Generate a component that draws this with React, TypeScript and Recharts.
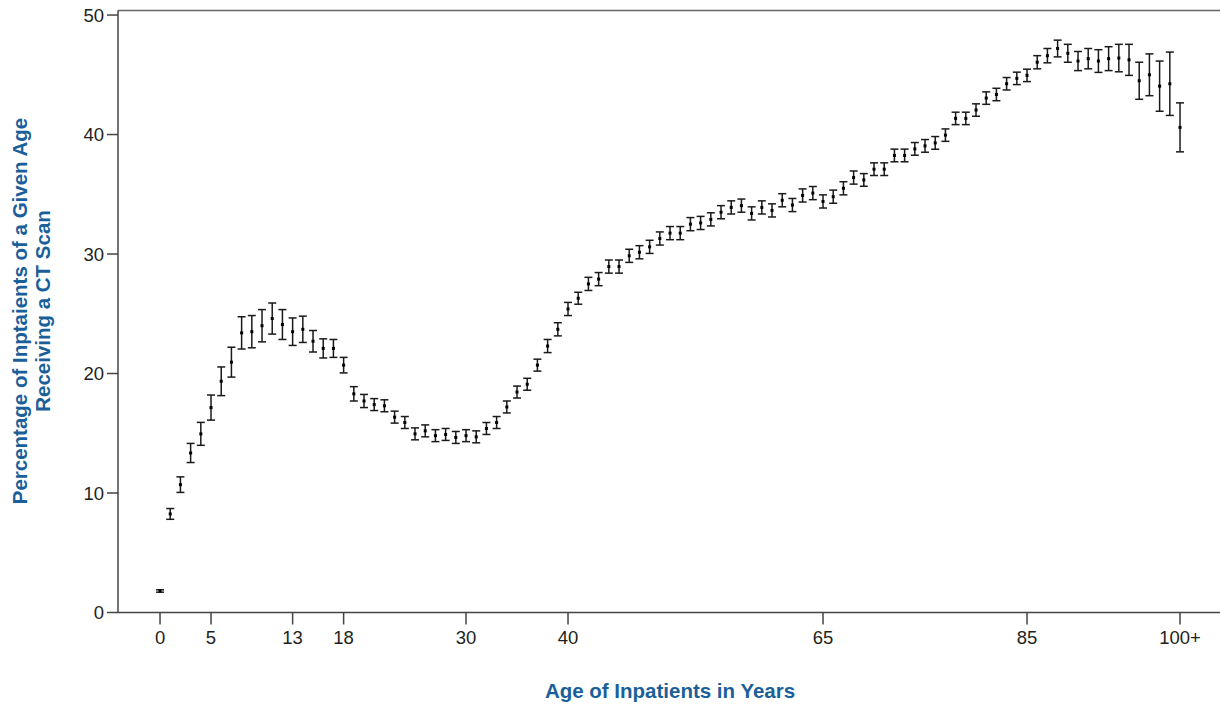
import React from 'react';
import { ScatterChart, Scatter, XAxis, YAxis, ErrorBar, ReferenceLine } from 'recharts';

const ages = [
  0, 1, 2, 3, 4, 5, 6, 7, 8, 9, 10, 11, 12, 13, 14, 15, 16, 17, 18, 19,
  20, 21, 22, 23, 24, 25, 26, 27, 28, 29, 30, 31, 32, 33, 34, 35, 36, 37, 38, 39,
  40, 41, 42, 43, 44, 45, 46, 47, 48, 49, 50, 51, 52, 53, 54, 55, 56, 57, 58, 59,
  60, 61, 62, 63, 64, 65, 66, 67, 68, 69, 70, 71, 72, 73, 74, 75, 76, 77, 78, 79,
  80, 81, 82, 83, 84, 85, 86, 87, 88, 89, 90, 91, 92, 93, 94, 95, 96, 97, 98, 99,
  100,
];

const percentCT = [
  1.8, 8.25, 10.7, 13.35, 14.95, 17.15, 19.35, 20.95, 23.4, 23.5,
  24.0, 24.6, 24.1, 23.5, 23.7, 22.7, 22.1, 22.1, 20.7, 18.3,
  17.7, 17.4, 17.3, 16.35, 15.9, 14.95, 15.2, 14.8, 14.9, 14.65,
  14.8, 14.7, 15.4, 15.9, 17.2, 18.45, 19.1, 20.7, 22.3, 23.7,
  25.4, 26.3, 27.5, 27.9, 28.95, 28.95, 29.85, 30.15, 30.6, 31.3,
  31.75, 31.75, 32.5, 32.6, 32.9, 33.5, 33.9, 34.05, 33.4, 33.9,
  33.65, 34.5, 34.1, 34.9, 35.1, 34.4, 34.8, 35.5, 36.4, 36.2,
  37.1, 37.1, 38.25, 38.25, 38.8, 39.05, 39.3, 39.95, 41.35, 41.35,
  42.05, 43.05, 43.35, 44.25, 44.7, 44.95, 46.05, 46.6, 47.2, 46.8,
  46.15, 46.35, 46.15, 46.35, 46.4, 46.25, 44.5, 45.0, 44.05, 44.25,
  40.6,
];

const errorCT = [
  0.1, 0.45, 0.65, 0.8, 0.96, 1.05, 1.2, 1.25, 1.35, 1.35,
  1.35, 1.3, 1.25, 1.15, 1.1, 0.9, 0.8, 0.75, 0.65, 0.6,
  0.55, 0.5, 0.5, 0.5, 0.5, 0.5, 0.5, 0.5, 0.5, 0.5,
  0.5, 0.5, 0.5, 0.5, 0.5, 0.5, 0.5, 0.5, 0.55, 0.55,
  0.55, 0.5, 0.55, 0.55, 0.55, 0.55, 0.55, 0.55, 0.55, 0.55,
  0.55, 0.55, 0.55, 0.55, 0.55, 0.55, 0.55, 0.55, 0.55, 0.55,
  0.55, 0.55, 0.55, 0.55, 0.55, 0.55, 0.55, 0.55, 0.55, 0.53,
  0.53, 0.53, 0.53, 0.53, 0.53, 0.53, 0.53, 0.52, 0.52, 0.52,
  0.52, 0.52, 0.52, 0.52, 0.52, 0.52, 0.55, 0.6, 0.7, 0.75,
  0.8, 0.85, 0.95, 1.0, 1.15, 1.3, 1.55, 1.75, 2.1, 2.65,
  2.05,
];

const xTicks = [0, 5, 13, 18, 30, 40, 65, 85, 100];
const yTicks = [0, 10, 20, 30, 40, 50];

const data = ages.map((age, i) => ({ age, pct: percentCT[i], err: errorCT[i] }));

const BLUE = '#1a5f99';
const AXIS = '#444';
const FONT = '"Liberation Sans", Arial, Helvetica, sans-serif';

const DotShape = (props: any) => {
  const { cx, cy } = props;
  if (cx == null || cy == null) return null;
  return <rect x={cx - 1.5} y={cy - 1.5} width={3} height={3} fill="#000" />;
};

export default function App() {
  return (
    <div style={{ position: 'absolute', left: 0, top: 0, width: 1220, height: 708, background: '#fff' }}>
      <ScatterChart width={1220} height={708} margin={{ top: 10.5, right: 0, bottom: 0, left: 0 }}>
        <XAxis
          type="number"
          dataKey="age"
          domain={[-4.12, 103.92]}
          allowDataOverflow
          ticks={xTicks}
          interval={0}
          tickFormatter={(v: number) => (v === 100 ? '100+' : String(v))}
          height={95.5}
          tickSize={12}
          tickMargin={6}
          stroke={AXIS}
          strokeWidth={1.5}
          tick={{ fill: '#231f20', fontSize: 18.5, fontFamily: FONT }}
        />
        <YAxis
          type="number"
          dataKey="pct"
          domain={[0, 50.38]}
          allowDataOverflow
          ticks={yTicks}
          interval={0}
          width={118}
          tickSize={11}
          tickMargin={3}
          stroke={AXIS}
          strokeWidth={1.5}
          tick={{ fill: '#231f20', fontSize: 18.5, fontFamily: FONT }}
        />
        <ReferenceLine y={50.38} stroke="#666" strokeWidth={1.5} />
        <Scatter data={data} isAnimationActive={false} shape={DotShape}>
          <ErrorBar dataKey="err" direction="y" width={4} stroke="#1a1a1a" strokeWidth={1.5} isAnimationActive={false} />
        </Scatter>
      </ScatterChart>
      <svg width={1220} height={708} style={{ position: 'absolute', left: 0, top: 0, pointerEvents: 'none' }}>
        <text x={670} y={698} textAnchor="middle" fontFamily={FONT} fontWeight="bold" fontSize={20.5} fill={BLUE}>
          Age of Inpatients in Years
        </text>
        <text transform="translate(27, 311) rotate(-90)" textAnchor="middle" fontFamily={FONT} fontWeight="bold" fontSize={20.5} fill={BLUE}>
          Percentage of Inptaients of a Given Age
        </text>
        <text transform="translate(50, 311) rotate(-90)" textAnchor="middle" fontFamily={FONT} fontWeight="bold" fontSize={20.5} fill={BLUE}>
          Receiving a CT Scan
        </text>
      </svg>
    </div>
  );
}
